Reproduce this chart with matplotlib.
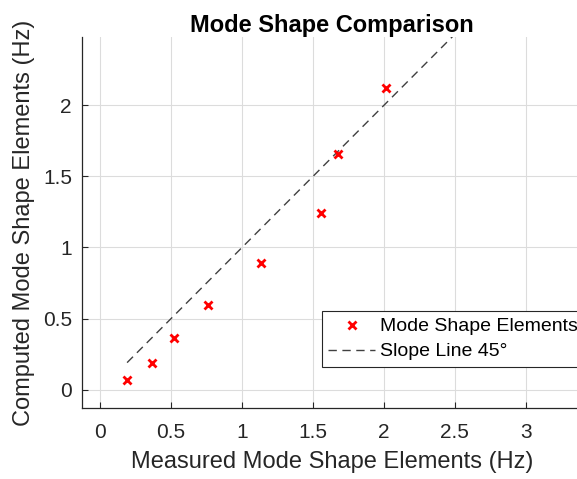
import numpy as np
import matplotlib
matplotlib.use("Agg")
import matplotlib.pyplot as plt

plt.rcParams["font.family"] = ["Liberation Sans", "DejaVu Sans"]

# measured vs computed mode shape elements (Hz)
measured = [0.19, 0.368, 0.519, 0.763, 1.133, 1.556, 1.676, 2.013]
computed = [0.065, 0.187, 0.363, 0.593, 0.888, 1.24, 1.655, 2.124]

# 45 degree reference line
slope_x = [0.19, 2.6]
slope_y = [0.19, 2.6]

xticks = [0, 0.5, 1, 1.5, 2, 2.5, 3]
yticks = [0, 0.5, 1, 1.5, 2]

txt = "#262626"

fig = plt.figure(figsize=(5.77, 4.79), dpi=100)
ax = fig.add_axes([0.1416, 0.148, 0.868, 0.7746])

ax.plot(measured, computed, "x", color="red", markersize=6, markeredgewidth=2,
        label="Mode Shape Elements", zorder=3)
ax.plot(slope_x, slope_y, "--", color="#404040", linewidth=1, dashes=(6, 4),
        label="Slope Line 45°", zorder=2)

ax.set_xlim(-0.13, 3.4)
ax.set_ylim(-0.13, 2.48)
ax.set_xticks(xticks)
ax.set_yticks(yticks)
ax.set_xticklabels([f"{t:g}" for t in xticks])
ax.set_yticklabels([f"{t:g}" for t in yticks])

ax.grid(True, color="#dcdcdc", linewidth=0.8)
ax.set_axisbelow(True)
for s in ["top", "right"]:
    ax.spines[s].set_visible(False)
for s in ["left", "bottom"]:
    ax.spines[s].set_color(txt)
    ax.spines[s].set_linewidth(0.9)

ax.tick_params(direction="in", length=4, width=0.8, colors=txt, labelsize=15)
ax.tick_params(axis="x", pad=11)
ax.tick_params(axis="y", pad=7)

ax.set_xlabel("Measured Mode Shape Elements (Hz)", fontsize=17, color=txt, labelpad=6)
ax.set_ylabel("Computed Mode Shape Elements (Hz)", fontsize=17, color=txt, labelpad=6)
ax.set_title("Mode Shape Comparison", fontsize=17, fontweight="bold", pad=3)

leg = ax.legend(loc="upper left", bbox_to_anchor=(0.479, 0.2615), borderaxespad=0,
                fontsize=14, fancybox=False, framealpha=1, edgecolor=txt,
                handlelength=2.4, handletextpad=0.25, borderpad=0.35, labelspacing=0.38)
leg.get_frame().set_linewidth(0.8)

fig.savefig("out.png", dpi=100)
